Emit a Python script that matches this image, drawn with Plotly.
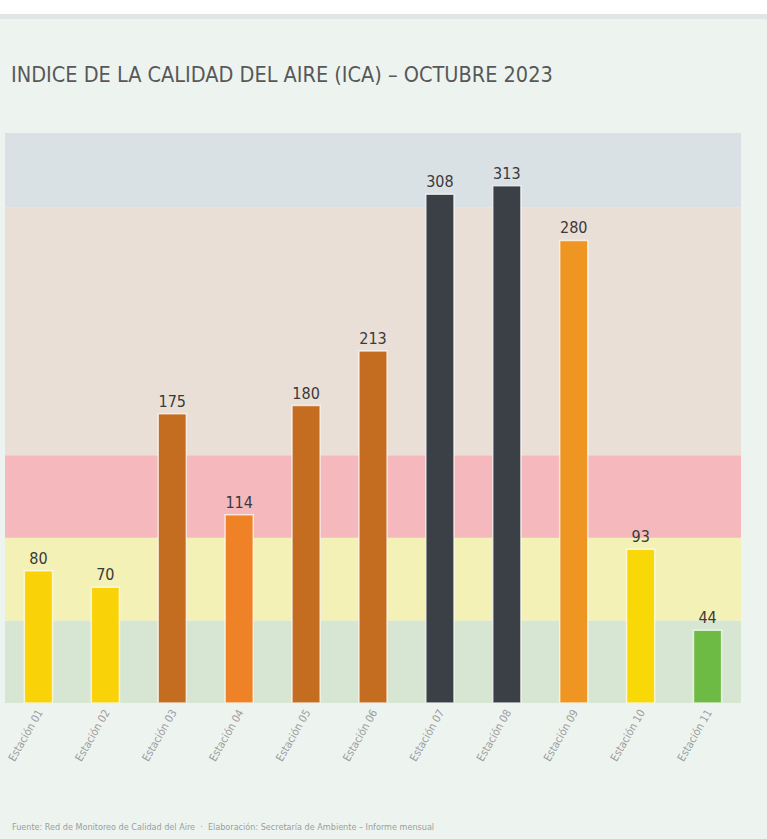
import plotly.graph_objects as go

# ---- data ----
estaciones = ["Estación 01", "Estación 02", "Estación 03", "Estación 04", "Estación 05",
              "Estación 06", "Estación 07", "Estación 08", "Estación 09", "Estación 10",
              "Estación 11"]
ica = [80, 70, 175, 114, 180, 213, 308, 313, 280, 93, 44]
colores = ["#F9D208", "#F9D208", "#C46C1F", "#EF8226", "#C46C1F", "#C46C1F",
           "#3B4047", "#3B4047", "#EE9621", "#F9D808", "#6DBB44"]

# background bands (ICA ranges)
banda_ini = [0, 50, 100, 150, 300]
banda_fin = [50, 100, 150, 300, 345]
banda_col = ["#D7E6D3", "#F3F1B6", "#F5B8BD", "#E9DFD7", "#DAE1E5"]

titulo = "INDICE DE LA CALIDAD DEL AIRE (ICA) – OCTUBRE 2023"
fuente = "Fuente: Red de Monitoreo de Calidad del Aire  ·  Elaboración: Secretaría de Ambiente – Informe mensual"

NARROW = "DejaVu Sans Condensed, Liberation Sans Narrow, Arial Narrow, sans-serif"

fig = go.Figure()
fig.add_trace(go.Bar(
    x=estaciones, y=ica, marker=dict(color=colores, line=dict(color="rgba(255,255,255,0.7)", width=1.5)),
    width=0.42, text=[str(v) for v in ica], textposition="outside",
    textfont=dict(family=NARROW, size=16, color="#3A3A3A"),
    cliponaxis=False, hoverinfo="x+y"))

shapes = []
for a, b, c in zip(banda_ini, banda_fin, banda_col):
    shapes.append(dict(type="rect", xref="paper", yref="y", x0=0, x1=1, y0=a, y1=b,
                       fillcolor=c, line=dict(width=0), layer="below"))
# top white strip and grey rule
shapes.append(dict(type="rect", xref="paper", yref="paper", x0=-0.02, x1=1.05,
                   y0=1 + 119/570, y1=1 + 140/570, fillcolor="#FFFFFF", line=dict(width=0), layer="below"))
shapes.append(dict(type="rect", xref="paper", yref="paper", x0=-0.02, x1=1.05,
                   y0=1 + 114/570, y1=1 + 119/570, fillcolor="#E2E5E6", line=dict(width=0), layer="below"))

fig.update_layout(
    width=767, height=839,
    margin=dict(l=5, r=26, t=133, b=136, autoexpand=False),
    paper_bgcolor="#EDF4F0", plot_bgcolor="rgba(0,0,0,0)",
    shapes=shapes, showlegend=False, bargap=0.58,
    xaxis=dict(tickangle=-60, tickfont=dict(family=NARROW, size=11, color="#9C9C9C"),
               showgrid=False, zeroline=False, showline=False, ticks="", automargin=False),
    yaxis=dict(range=[0, 345], visible=False, showgrid=False),
    annotations=[
        dict(text=titulo, xref="paper", yref="paper", x=0.005, y=1 + 58/570, xanchor="left", yanchor="middle",
             showarrow=False, font=dict(family=NARROW, size=21.5, color="#585858")),
        dict(text=fuente, xref="paper", yref="paper", x=0.007, y=-124/570, xanchor="left", yanchor="middle",
             showarrow=False, font=dict(family=NARROW, size=9, color="#9A9E9C")),
    ],
)

fig.write_html("out.html", config={"displayModeBar": False},
               post_script="document.body.style.margin='0px';document.body.style.background='#EDF4F0';")
